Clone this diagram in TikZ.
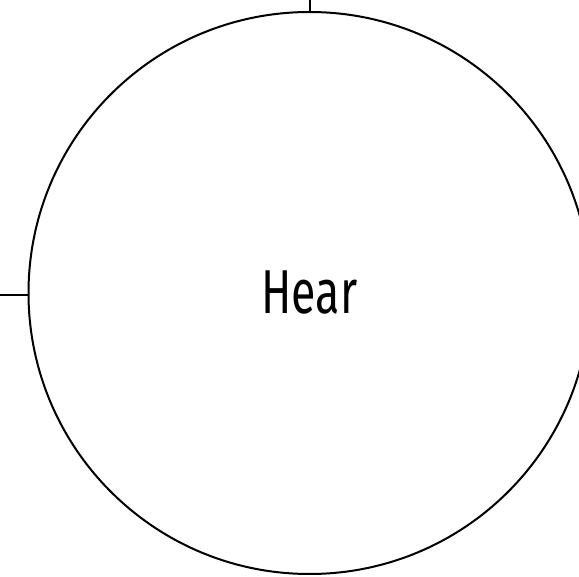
\documentclass[tikz,border=0pt]{standalone}
\usepackage{fontspec}
\newfontfamily\hearfont[FakeStretch=0.72]{Fira Sans}
\usetikzlibrary{positioning}

\begin{document}
\begin{tikzpicture}[x=1pt,y=-1pt,line width=2pt]

% frame of the picture
\useasboundingbox (0,0) rectangle (579,577);
\clip (0,0) rectangle (579,577);

\tikzset{bigcircle/.style={circle, draw, minimum size=562pt, inner sep=0pt,
  font=\hearfont\fontsize{62}{62}\selectfont}}

% the circle and its text
\node[bigcircle] (hear) at (309.5,293) {Hear};

% loose ends
\coordinate (topend) at (hear.north |- 0,0);
\coordinate (leftend) at (0,295);
\draw (hear.north) -- (topend);
\draw (hear.west |- leftend) -- (leftend);

\end{tikzpicture}
\end{document}
